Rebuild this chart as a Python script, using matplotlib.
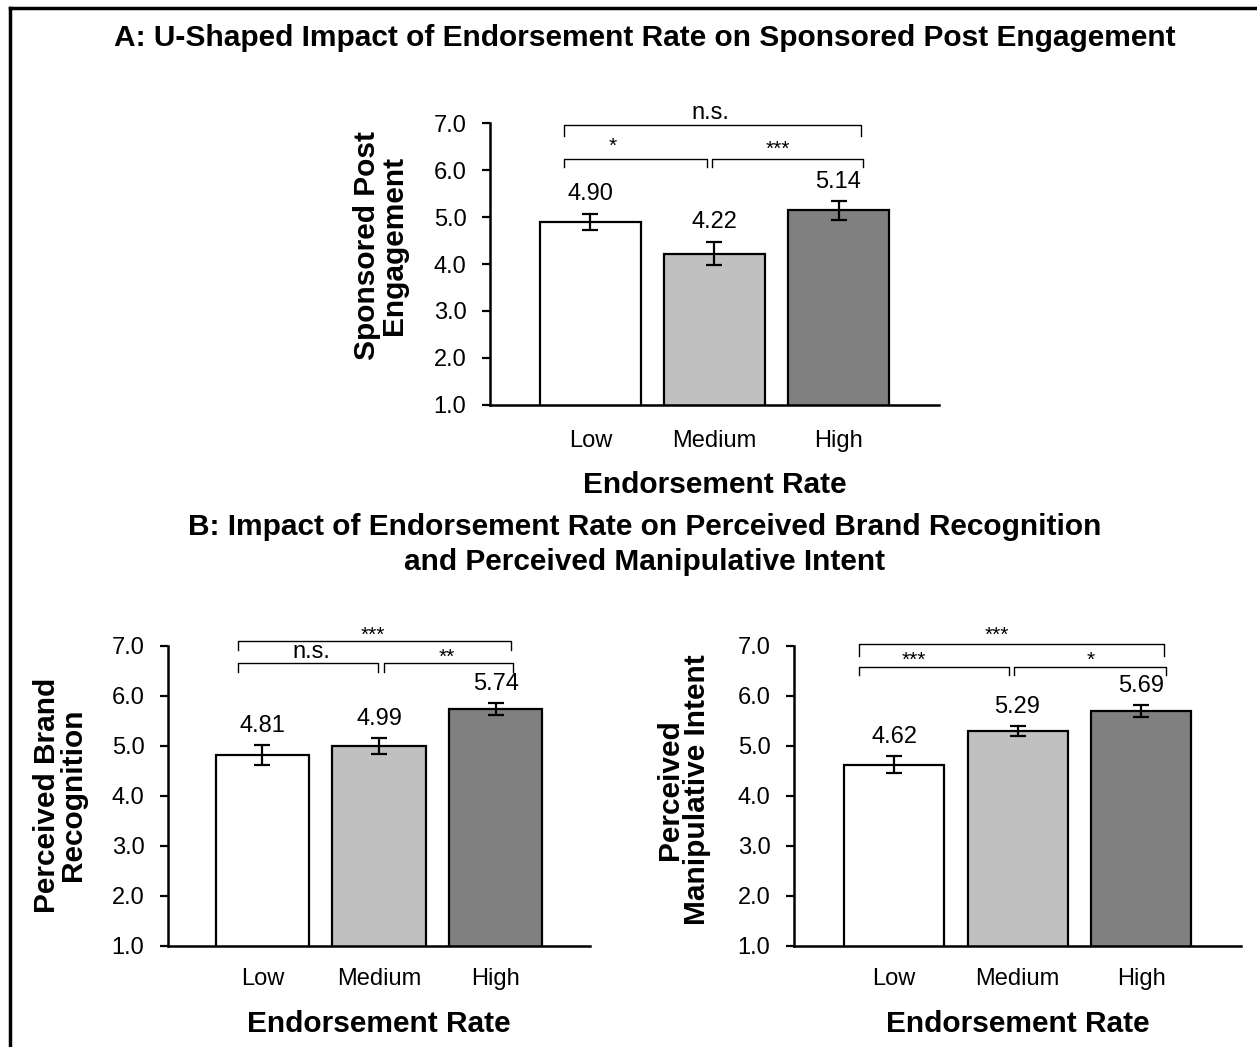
import numpy as np
import matplotlib
matplotlib.use('Agg')
import matplotlib.pyplot as plt
from matplotlib.lines import Line2D

plt.rcParams['font.family'] = ['Liberation Sans', 'DejaVu Sans']

# study results, means and error bar half widths per endorsement rate
categories = ['Low', 'Medium', 'High']
bar_colors = ['#ffffff', '#c0c0c0', '#808080']

engagement_mean = [4.90, 4.22, 5.14]
engagement_err = [0.17, 0.25, 0.20]

recognition_mean = [4.81, 4.99, 5.74]
recognition_err = [0.20, 0.16, 0.12]

manipulative_mean = [4.62, 5.29, 5.69]
manipulative_err = [0.17, 0.10, 0.12]

# significance brackets: (x_left, x_right, y, tip drop, label, label_x, label_y, label_size)
engagement_brackets = [
    (-0.21, 2.18, 6.96, 0.24, 'n.s.', 0.97, 7.22, 17),
    (-0.21, 0.94, 6.23, 0.17, '*', 0.18, 6.50, 15),
    (0.98, 2.20, 6.23, 0.17, '***', 1.51, 6.45, 15),
]
recognition_brackets = [
    (-0.21, 2.13, 7.10, 0.18, '***', 0.95, 7.22, 15),
    (-0.21, 0.99, 6.66, 0.18, 'n.s.', 0.42, 6.87, 17),
    (1.04, 2.15, 6.66, 0.18, '**', 1.58, 6.78, 15),
]
manipulative_brackets = [
    (-0.28, 2.19, 7.04, 0.24, '***', 0.83, 7.22, 15),
    (-0.28, 0.93, 6.58, 0.16, '***', 0.16, 6.72, 15),
    (0.97, 2.20, 6.58, 0.16, '*', 1.59, 6.72, 15),
]


def draw_panel(ax, means, errs, brackets, ylabel, label_pos, bar_width=0.81, xpad=18):
    x = np.arange(len(categories))
    ax.bar(x, means, width=bar_width, color=bar_colors, edgecolor='black',
           linewidth=1.6, zorder=2)
    ax.errorbar(x, means, yerr=errs, fmt='none', ecolor='black',
                elinewidth=1.6, capsize=6, capthick=1.6, zorder=3)
    for xi, m, e in zip(x, means, errs):
        ax.annotate('{:.2f}'.format(m), (xi, m + e), xytext=(0, 14),
                    textcoords='offset points', ha='center', va='center',
                    fontsize=17)
    for x0, x1, y, drop, label, lx, ly, size in brackets:
        ax.plot([x0, x0, x1, x1], [y - drop, y, y, y - drop], color='black',
                linewidth=1.0, clip_on=False)
        ax.text(lx, ly, label, ha='center', va='center', fontsize=size,
                clip_on=False)
    ax.set_ylim(1, 7)
    ax.set_xlim(-0.81, 2.81)
    ax.set_yticks(np.arange(1, 8))
    ax.set_yticklabels(['{:.1f}'.format(v) for v in range(1, 8)])
    ax.set_xticks(x)
    ax.set_xticklabels(categories)
    ax.tick_params(axis='y', direction='out', length=6, width=1.6,
                   labelsize=17, pad=11)
    ax.tick_params(axis='x', length=0, labelsize=17, pad=xpad)
    for side in ['top', 'right']:
        ax.spines[side].set_visible(False)
    for side in ['left', 'bottom']:
        ax.spines[side].set_linewidth(1.8)
    ax.set_xlabel('Endorsement Rate', fontsize=21.5, fontweight='bold',
                  labelpad=14)
    ax.set_ylabel(ylabel, fontsize=21.5, fontweight='bold',
                  linespacing=0.95, va='center')
    ax.yaxis.set_label_coords(*label_pos)


fig = plt.figure(figsize=(12.57, 10.47), dpi=100)

ax_a = fig.add_axes([0.3898, 0.6132, 0.3572, 0.2693])
draw_panel(ax_a, engagement_mean, engagement_err, engagement_brackets,
           'Sponsored Post\nEngagement', (-0.243, 0.567))

ax_b1 = fig.add_axes([0.1337, 0.0965, 0.3357, 0.2865])
draw_panel(ax_b1, recognition_mean, recognition_err, recognition_brackets,
           'Perceived Brand\nRecognition', (-0.256, 0.503), bar_width=0.80, xpad=16)

ax_b2 = fig.add_axes([0.6317, 0.0965, 0.3556, 0.2865])
draw_panel(ax_b2, manipulative_mean, manipulative_err, manipulative_brackets,
           'Perceived\nManipulative Intent', (-0.248, 0.52), xpad=16)

fig.text(0.513, 0.9635, 'A: U-Shaped Impact of Endorsement Rate on Sponsored Post Engagement',
         ha='center', va='center', fontsize=21.5, fontweight='bold')
fig.text(0.513, 0.480, 'B: Impact of Endorsement Rate on Perceived Brand Recognition\n'
         'and Perceived Manipulative Intent',
         ha='center', va='center', fontsize=21.5, fontweight='bold', linespacing=1.28)

# frame lines on the left and top edge
fig.add_artist(Line2D([0.008, 0.008], [0, 0.9925], color='black', linewidth=2.5))
fig.add_artist(Line2D([0.008, 1.0], [0.9925, 0.9925], color='black', linewidth=2.5))

fig.savefig('out.png', dpi=100)
